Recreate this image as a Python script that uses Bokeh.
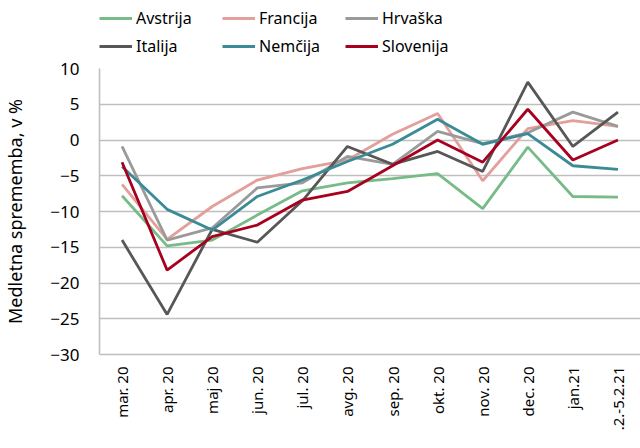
from bokeh.plotting import figure
from bokeh.layouts import column
from bokeh.models import Legend, LegendItem, Range1d, FixedTicker
from bokeh.embed import file_html
from bokeh.resources import INLINE
import math

months = ["mar. 20", "apr. 20", "maj 20", "jun. 20", "jul. 20", "avg. 20",
          "sep. 20", "okt. 20", "nov. 20", "dec. 20", "jan.21", ".2.-5.2.21"]
avstrija = [-7.8, -14.8, -14.0, -10.5, -7.1, -6.0, -5.4, -4.7, -9.6, -1.0, -7.9, -8.0]
francija = [-6.2, -13.9, -9.3, -5.6, -4.0, -2.8, 0.8, 3.7, -5.7, 1.6, 2.7, 1.9]
hrvaska = [-0.9, -14.0, -12.3, -6.7, -6.0, -2.3, -3.4, 1.2, -0.5, 1.0, 3.9, 1.9]
italija = [-14.0, -24.4, -12.5, -14.3, -8.5, -0.9, -3.4, -1.6, -4.4, 8.1, -0.9, 3.9]
nemcija = [-3.7, -9.7, -12.6, -7.9, -5.6, -3.0, -0.6, 2.9, -0.6, 0.9, -3.6, -4.1]
slovenija = [-3.1, -18.2, -13.5, -11.9, -8.4, -7.2, -3.6, 0.0, -3.1, 4.3, -2.8, 0.0]

names = ["Avstrija", "Francija", "Hrvaška", "Italija", "Nemčija", "Slovenija"]
series = [avstrija, francija, hrvaska, italija, nemcija, slovenija]
colors = ["#77bb88", "#e39f9b", "#9a9a9a", "#575757", "#3a8b96", "#a8001f"]
yticks = [-30, -25, -20, -15, -10, -5, 0, 5, 10]

FONT = "Noto Sans"
GRID = "#bfbfbf"
LW = 2.8

# ---- legend strip (series drawn off-view; only the legend shows) ----
lg = figure(width=640, height=56, output_backend="svg", toolbar_location=None,
            min_border=0, x_range=months, y_range=Range1d(1000, 1001),
            x_axis_location=None, y_axis_location=None)
lg.grid.visible = False
lg.outline_line_color = None
leg_r = {}
for name, vals, col in zip(names, series, colors):
    leg_r[name] = lg.line(months, vals, line_color=col, line_width=LW)
order = ["Avstrija", "Italija", "Francija", "Nemčija", "Hrvaška", "Slovenija"]
legend = Legend(items=[LegendItem(label=n, renderers=[leg_r[n]]) for n in order],
                ncols=3,
                glyph_width=33, glyph_height=20, label_width=80, label_height=20,
                label_standoff=4, spacing=6, padding=0, margin=0,
                border_line_color=None, background_fill_alpha=0,
                label_text_font=FONT, label_text_font_size="16px",
                label_text_color="#000000",
                location=(0, -1))
lg.add_layout(legend, "center")

# ---- main chart ----
p = figure(width=640, height=388, x_range=months, y_range=Range1d(-30, 10),
           output_backend="svg", toolbar_location=None,
           min_border_left=96, min_border_right=0, min_border_top=12,
           min_border_bottom=90)
p.x_range.range_padding = 0

for name, vals, col in zip(names, series, colors):
    p.line(months, vals, line_color=col, line_width=LW)

p.outline_line_color = None
p.xgrid.grid_line_color = None
p.ygrid.grid_line_color = GRID
p.ygrid.grid_line_width = 1.6
p.yaxis.ticker = FixedTicker(ticks=yticks)

for ax in (p.xaxis[0], p.yaxis[0]):
    ax.axis_line_color = GRID
    ax.axis_line_width = 1.6
    ax.major_tick_line_color = None
    ax.minor_tick_line_color = None
    ax.major_label_text_font = FONT
    ax.major_label_text_color = "#000000"

p.yaxis.major_label_text_font_size = "17px"
p.yaxis.major_label_standoff = 14
p.yaxis.axis_label = "Medletna sprememba, v %"
p.yaxis.axis_label_text_font = FONT
p.yaxis.axis_label_text_font_size = "18px"
p.yaxis.axis_label_text_font_style = "normal"
p.yaxis.axis_label_text_color = "#000000"
p.yaxis.axis_label_standoff = 20

p.xaxis.major_label_orientation = math.pi / 2
p.xaxis.major_label_text_font_size = "15px"
p.xaxis.major_label_standoff = 6

layout = column(lg, p, spacing=0)
open("out.html", "w").write(file_html(layout, INLINE))
